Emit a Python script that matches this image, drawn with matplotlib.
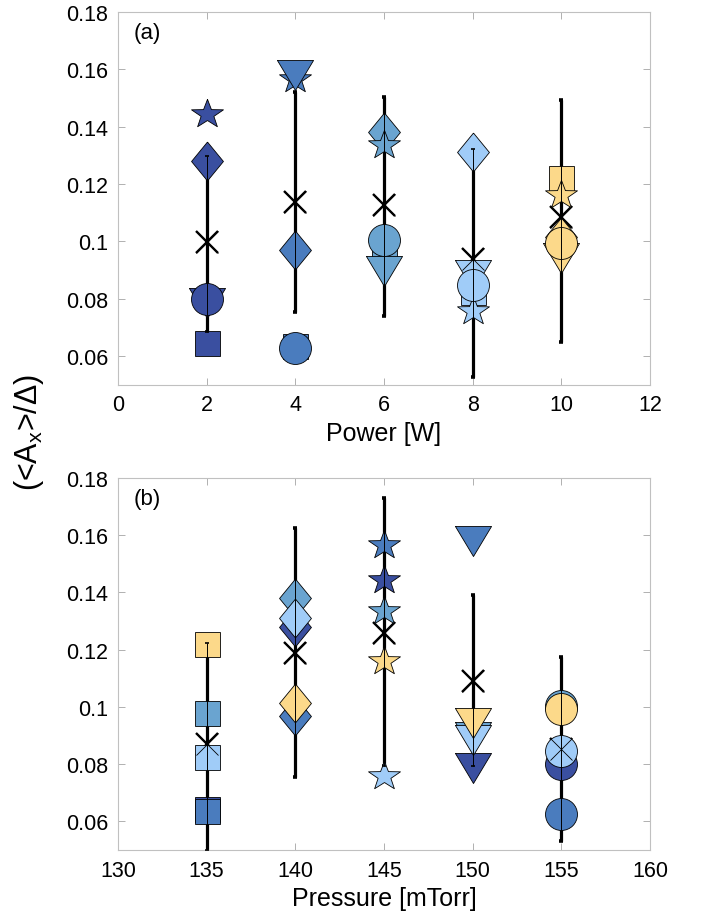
import numpy as np
import matplotlib.pyplot as plt

plt.rcParams['font.family'] = ['Liberation Sans', 'DejaVu Sans']
plt.rcParams['mathtext.fontset'] = 'custom'
plt.rcParams['mathtext.rm'] = 'Liberation Sans'

power = [2, 4, 6, 8, 10]            # W
pressure = [135, 140, 145, 150, 155]  # mTorr

# rows: power 2..10 W, columns: pressure 135..155 mTorr
ratio = np.array([
    [0.0644, 0.1280, 0.1445, 0.0785, 0.0800],
    [0.0635, 0.0970, 0.1565, 0.1580, 0.0627],
    [0.0978, 0.1380, 0.1335, 0.0895, 0.1005],
    [0.0824, 0.1310, 0.0758, 0.0883, 0.0846],
    [0.1220, 0.1015, 0.1160, 0.0943, 0.0993],
])

# mean and bar ends, grouped by power
power_mean = [0.0997, 0.1136, 0.1127, 0.0940, 0.1084]
power_lo = [0.0685, 0.0753, 0.0741, 0.0526, 0.0648]
power_hi = [0.1299, 0.1522, 0.1505, 0.1322, 0.1494]

# mean and bar ends, grouped by pressure
pres_mean = [0.0869, 0.1190, 0.1260, 0.1090, 0.0852]
pres_lo = [0.0496, 0.0755, 0.0793, 0.0793, 0.0533]
pres_hi = [0.1223, 0.1627, 0.1732, 0.1391, 0.1173]

colors = ['#3A4FA0', '#4A7CBE', '#6AA4D0', '#A0CCF8', '#FCD98A']

# marker shapes (one per pressure)
ang = np.pi / 2 + np.arange(10) * np.pi / 5
rad = np.where(np.arange(10) % 2 == 0, 1.0, 0.40)
star = list(zip(rad * np.cos(ang), 0.9 * rad * np.sin(ang)))
star.append(star[0])
diamond = [(0, 1), (0.82, 0), (0, -1), (-0.82, 0), (0, 1)]
tri_down = [(-1, 0.833), (1, 0.833), (0, -0.833), (-1, 0.833)]
markers = ['s', diamond, star, tri_down, 'o']
msizes = [18, 28, 23, 26, 23]


def draw_panel(ax, xs, mean, lo, hi, by_power):
    mean = np.array(mean)
    yerr = [mean - np.array(lo), np.array(hi) - mean]
    ax.errorbar(xs, mean, yerr=yerr, fmt='none', ecolor='k', elinewidth=2.3,
                capsize=1.6, capthick=2.6, zorder=2)
    ax.plot(xs, mean, 'x', color='k', ms=15.5, mew=1.7, zorder=2)
    for g in range(5):
        for k in range(5):
            if by_power:
                i, j = g, k
            else:
                i, j = k, g
            ax.plot(xs[g], ratio[i, j], ls='none', marker=markers[j], ms=msizes[j],
                    mfc=colors[i], mec='k', mew=0.6, zorder=3)
    ax.errorbar(xs, mean, yerr=yerr, fmt='none', ecolor='k', elinewidth=0.7,
                capsize=1.6, capthick=1.2, zorder=4)
    ax.plot(xs, mean, 'x', color='k', ms=15.5, mew=0.6, zorder=4)

    ax.set_ylim(0.05, 0.18)
    ax.set_yticks([0.06, 0.08, 0.1, 0.12, 0.14, 0.16, 0.18])
    ax.set_yticklabels(['0.06', '0.08', '0.1', '0.12', '0.14', '0.16', '0.18'])
    ax.tick_params(direction='in', top=True, right=True, length=5, width=0.7,
                   color='#b0b0b0', labelsize=15.5, pad=7)
    for s in ax.spines.values():
        s.set_color('#c0c0c0')
        s.set_linewidth(0.8)


fig = plt.figure(figsize=(7.02, 9.2), dpi=100)
ax1 = fig.add_axes([0.168, 0.5808, 0.758, 0.4051])
ax2 = fig.add_axes([0.168, 0.075, 0.758, 0.4043])

draw_panel(ax1, power, power_mean, power_lo, power_hi, True)
ax1.set_xlim(0, 12)
ax1.set_xticks([0, 2, 4, 6, 8, 10, 12])
ax1.set_xlabel('Power [W]', fontsize=18, labelpad=4)
ax1.text(0.03, 0.945, '(a)', transform=ax1.transAxes, fontsize=16, va='center')

draw_panel(ax2, pressure, pres_mean, pres_lo, pres_hi, False)
ax2.set_xlim(130, 160)
ax2.set_xticks([130, 135, 140, 145, 150, 155, 160])
ax2.set_xlabel('Pressure [mTorr]', fontsize=18, labelpad=4)
ax2.text(0.03, 0.945, '(b)', transform=ax2.transAxes, fontsize=16, va='center')

fig.text(0.042, 0.53, r'(<A$_\mathregular{x}$>/Δ)', rotation=90, fontsize=22,
         ha='center', va='center')

fig.savefig('out.png', dpi=100)
